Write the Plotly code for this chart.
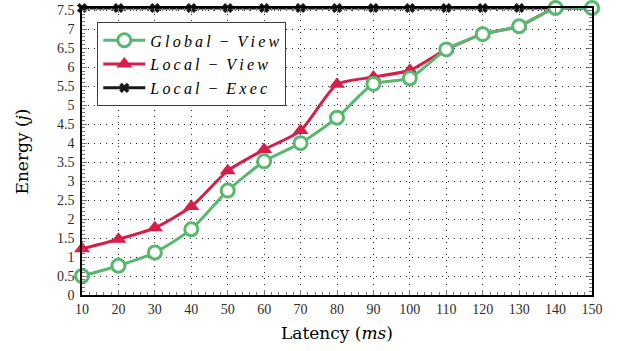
import plotly.graph_objects as go

latency = [10, 20, 30, 40, 50, 60, 70, 80, 90, 100, 110, 120, 130, 140, 150]
global_view = [0.50, 0.77, 1.12, 1.73, 2.75, 3.52, 4.00, 4.67, 5.56, 5.71, 6.47, 6.87, 7.08, 7.56, 7.56]
local_view = [1.22, 1.47, 1.77, 2.33, 3.27, 3.83, 4.33, 5.55, 5.74, 5.92, 6.47, 6.87, 7.08, 7.56, 7.56]
local_exec = [7.56] * 15

y_ticks = [0, 0.5, 1, 1.5, 2, 2.5, 3, 3.5, 4, 4.5, 5, 5.5, 6, 6.5, 7, 7.5]
y_labels = ["0", "0.5", "1", "1.5", "2", "2.5", "3", "3.5", "4", "4.5", "5", "5.5", "6", "6.5", "7", "7.5"]

GREEN = "rgb(88,185,110)"
RED = "rgb(214,30,72)"
BLACK = "rgb(25,25,25)"
SERIF = "Liberation Serif, DejaVu Serif, serif"
TITLE_SERIF = "DejaVu Serif, Liberation Serif, serif"
TS = "\u2009"  # thin space to mimic math-mode letter spacing
EN = "\u2002"


def spaced(word):
    return TS.join(word)


name_g = "<i>" + spaced("Global") + EN + "\u2212" + EN + spaced("View") + "</i>"
name_l = "<i>" + spaced("Local") + EN + "\u2212" + EN + spaced("View") + "</i>"
name_e = "<i>" + spaced("Local") + EN + "\u2212" + EN + spaced("Exec") + "</i>"

fig = go.Figure()
fig.add_trace(go.Scatter(
    x=latency, y=local_exec, name=name_e, legendgroup="c", legendrank=3,
    mode="lines+markers", line=dict(color=BLACK, width=3),
    marker=dict(symbol="x", size=9, color=BLACK, line=dict(width=0)),
    cliponaxis=False,
))
fig.add_trace(go.Scatter(
    x=latency, y=local_view, name=name_l, legendgroup="b", legendrank=2,
    mode="lines+markers", line=dict(color=RED, width=3, shape="spline", smoothing=0.6),
    marker=dict(symbol="triangle-up", size=14, color=RED),
    cliponaxis=False,
))
fig.add_trace(go.Scatter(
    x=latency, y=global_view, name=name_g, legendgroup="a", legendrank=1,
    mode="lines+markers", line=dict(color=GREEN, width=3, shape="spline", smoothing=0.6),
    marker=dict(symbol="circle", size=13, color="white", line=dict(color=GREEN, width=3)),
    cliponaxis=False,
))

axis_common = dict(
    showline=True, linecolor="black", linewidth=1.5, mirror="ticks",
    showgrid=True, gridcolor="rgba(0,0,0,0.85)", griddash="1px,5px", gridwidth=1,
    ticks="inside", ticklen=5, tickcolor="rgb(120,120,120)", tickwidth=1,
    zeroline=False, automargin=False,
    tickfont=dict(family=SERIF, size=14, color="rgb(45,45,45)"),
)

fig.update_xaxes(
    **axis_common,
    range=[10, 150], tickmode="array", tickvals=latency,
    ticktext=[str(v) for v in latency],
    minor=dict(dtick=2, ticks="inside", ticklen=3, tickcolor="rgb(120,120,120)", showgrid=False),
    title=dict(text="Latency (<i>ms</i>)", font=dict(family=TITLE_SERIF, size=17, color="black"), standoff=12),
)
fig.update_yaxes(
    **axis_common,
    range=[0, 7.56], tickmode="array", tickvals=y_ticks, ticktext=y_labels,
    ticklabelstandoff=3,
    minor=dict(dtick=0.1, ticks="inside", ticklen=3, tickcolor="rgb(120,120,120)", showgrid=False),
    title=dict(text="Energy (<i>j</i>)", font=dict(family=TITLE_SERIF, size=17, color="black"), standoff=24),
)

fig.update_layout(
    width=620, height=351,
    margin=dict(l=82, r=28, t=8, b=56),
    plot_bgcolor="white", paper_bgcolor="white",
    showlegend=True,
    legend=dict(
        x=0.03, y=0.95, xanchor="left", yanchor="top",
        bgcolor="white", bordercolor="rgb(60,60,60)", borderwidth=1,
        font=dict(family=SERIF, size=16, color="black"),
        tracegroupgap=2, traceorder="normal", itemwidth=42,
    ),
)

fig.write_html("out.html")
